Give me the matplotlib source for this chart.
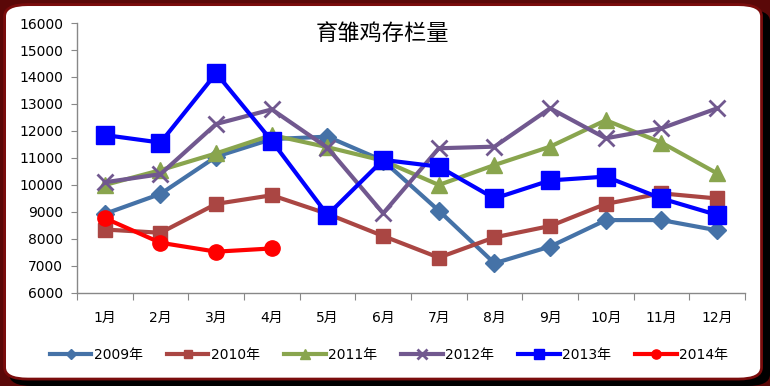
import matplotlib
matplotlib.use("Agg")
import matplotlib.pyplot as plt
from matplotlib.patches import FancyBboxPatch
from matplotlib.lines import Line2D

plt.rcParams['font.family'] = ['DejaVu Sans', 'Noto Sans CJK SC']

months = ['1月', '2月', '3月', '4月', '5月', '6月', '7月', '8月', '9月', '10月', '11月', '12月']
y2009 = [8930, 9670, 11050, 11700, 11790, 10900, 9050, 7100, 7720, 8700, 8700, 8320]
y2010 = [8350, 8230, 9300, 9620, 8930, 8110, 7310, 8060, 8480, 9300, 9690, 9500]
y2011 = [10000, 10550, 11170, 11850, 11400, 10900, 10000, 10740, 11420, 12400, 11570, 10430]
y2012 = [10100, 10400, 12260, 12800, 11380, 8950, 11360, 11420, 12840, 11730, 12100, 12840]
y2013 = [11850, 11570, 14140, 11630, 8890, 10930, 10680, 9500, 10170, 10310, 9500, 8890]
y2014 = [8770, 7860, 7530, 7650]
series_names = ['2009年', '2010年', '2011年', '2012年', '2013年', '2014年']
title = '育雏鸡存栏量'

styles = [
    dict(color='#4572A7', marker='D', ms=9),
    dict(color='#AA4643', marker='s', ms=10),
    dict(color='#89A54E', marker='^', ms=11),
    dict(color='#71588F', marker='x', ms=12, mew=2),
    dict(color='#0000FF', marker='s', ms=13),
    dict(color='#FF0000', marker='o', ms=11),
]
data = [y2009, y2010, y2011, y2012, y2013, y2014]

fig = plt.figure(figsize=(7.7, 3.86), dpi=100)
fig.patch.set_facecolor('#5a0808')
shadow = FancyBboxPatch((0.012, 0.0), 0.988, 0.975, boxstyle="round,pad=0,rounding_size=0.03",
                        transform=fig.transFigure, facecolor='#000000', edgecolor='none', zorder=-3)
fig.patches.append(shadow)
panel = FancyBboxPatch((0.006, 0.018), 0.983, 0.97, boxstyle="round,pad=0,rounding_size=0.03",
                       transform=fig.transFigure, facecolor='white', edgecolor='#7a0c0c', linewidth=2.0, zorder=-2)
fig.patches.append(panel)

ax = fig.add_axes([0.1, 0.241, 0.8675, 0.6994])
ax.set_facecolor('none')
x = list(range(1, 13))
handles = []
for name, vals, st in zip(series_names, data, styles):
    mew = st.get('mew', 1)
    ax.plot(x[:len(vals)], vals, color=st['color'], lw=3, marker=st['marker'], ms=st['ms'],
            mew=mew, mfc=st['color'], mec=st['color'], zorder=3)
    handles.append(Line2D([], [], color=st['color'], lw=3, marker=st['marker'],
                          ms=st['ms'] * 0.6, mew=mew, mfc=st['color'], mec=st['color']))

ax.set_xlim(0.5, 12.5)
ax.set_ylim(6000, 16000)
ax.set_yticks(range(6000, 16001, 1000))
ax.set_xticks([i + 0.5 for i in range(0, 13)])
ax.set_xticklabels([])
ax.set_xticks(x, minor=True)
ax.set_xticklabels(months, minor=True)
ax.tick_params(axis='x', which='minor', length=0, pad=13, labelsize=10)
ax.tick_params(axis='x', which='major', length=5, color='#888888', direction='out')
ax.tick_params(axis='y', length=4, color='#888888', labelsize=10, pad=6)
for s in ['top', 'right']:
    ax.spines[s].set_visible(False)
for s in ['left', 'bottom']:
    ax.spines[s].set_color('#888888')
    ax.spines[s].set_linewidth(1)

fig.text(0.496, 0.914, title, ha='center', va='center', fontsize=16,
         family=['Noto Sans CJK SC', 'DejaVu Sans'])

fig.legend(handles, series_names, loc='center', bbox_to_anchor=(0.505, 0.08), ncol=6,
           frameon=False, fontsize=10, handlelength=3.0, handletextpad=0.15, columnspacing=1.75)

fig.savefig('out.png', dpi=100, facecolor=fig.get_facecolor())
